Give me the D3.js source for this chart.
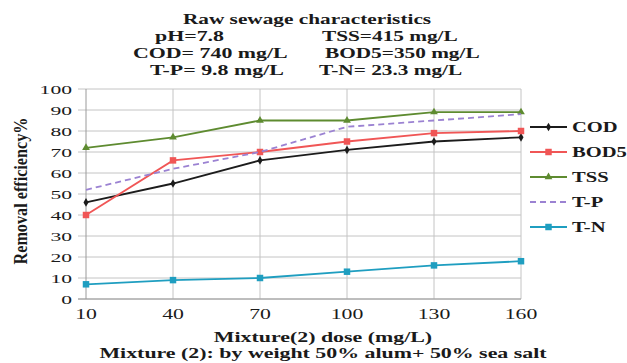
<!DOCTYPE html>
<html>
<head>
<meta charset="utf-8">
<script src="https://cdn.jsdelivr.net/npm/d3@7/dist/d3.min.js"></script>
<style>
  body { margin: 0; background: #fff; }
  text { font-family: "Liberation Serif", "Times New Roman", serif; fill: #1a1a1a; }
</style>
</head>
<body>
<div id="chart"></div>
<script>
const doses = [10, 40, 70, 100, 130, 160];
const cod = [46, 55, 66, 71, 75, 77];
const bod5 = [40, 66, 70, 75, 79, 80];
const tss = [72, 77, 85, 85, 89, 89];
const tp = [52, 62, 70, 82, 85, 88];
const tn = [7, 9, 10, 13, 16, 18];
const yTicks = [0, 10, 20, 30, 40, 50, 60, 70, 80, 90, 100];

const seriesNames = ["COD", "BOD5", "TSS", "T-P", "T-N"];
const headerTitle = "Raw sewage characteristics";
const headerLeft = ["pH=7.8", "COD= 740 mg/L", "T-P= 9.8 mg/L"];
const headerRight = ["TSS=415 mg/L", "BOD5=350 mg/L", "T-N= 23.3 mg/L"];
const xTitle = "Mixture(2) dose (mg/L)";
const caption = "Mixture (2): by weight 50% alum+ 50% sea salt";
const yTitle = "Removal efficiency%";

const W = 627, H = 363;
const svg = d3.select("#chart").append("svg")
    .attr("width", W)
    .attr("height", H);

// the picture is stretched sideways, so text is too
function label(str, x, y, size, bold, anchor, sx) {
    return svg.append("text")
        .attr("transform", "translate(" + x + "," + y + ") scale(" + sx + ",1)")
        .attr("text-anchor", anchor)
        .style("font-size", size + "px")
        .style("font-weight", bold ? "bold" : "normal")
        .text(str);
}

const x = d3.scalePoint().domain(doses).range([86, 521]);
const y = d3.scaleLinear().domain([0, 100]).range([299, 89]);

// grid
svg.append("g")
    .selectAll("line")
    .data(yTicks)
    .join("line")
    .attr("x1", 78).attr("x2", x(160))
    .attr("y1", d => y(d)).attr("y2", d => y(d))
    .attr("stroke", "#c4c4c4").attr("stroke-width", 1);
svg.append("g")
    .selectAll("line")
    .data(doses)
    .join("line")
    .attr("x1", d => x(d)).attr("x2", d => x(d))
    .attr("y1", y(100)).attr("y2", y(0))
    .attr("stroke", d => d == 10 ? "#9a9a9a" : "#c4c4c4").attr("stroke-width", 1);
svg.append("line")
    .attr("x1", 78).attr("x2", x(160))
    .attr("y1", y(0)).attr("y2", y(0))
    .attr("stroke", "#9a9a9a");

yTicks.forEach(d => label(d, 72, y(d) + 5, 13.5, false, "end", 1.6));
doses.forEach(d => label(d, x(d), 319, 15, false, "middle", 1.45));

const series = [
    { name: "COD", values: cod, color: "#1c1c1c", marker: "diamond", dash: null },
    { name: "BOD5", values: bod5, color: "#f05656", marker: "square", dash: null },
    { name: "TSS", values: tss, color: "#5e8b30", marker: "triangle", dash: null },
    { name: "T-P", values: tp, color: "#9b82d2", marker: null, dash: "6,4" },
    { name: "T-N", values: tn, color: "#1f9ec0", marker: "square", dash: null }
];

const line = d3.line()
    .x((d, i) => x(doses[i]))
    .y(d => y(d));

const markerSymbols = {
    diamond: d3.symbol().type(d3.symbolDiamond).size(22),
    square: d3.symbol().type(d3.symbolSquare).size(42),
    triangle: d3.symbol().type(d3.symbolTriangle).size(26)
};

series.forEach(s => {
    svg.append("path")
        .datum(s.values)
        .attr("d", line)
        .attr("fill", "none")
        .attr("stroke", s.color)
        .attr("stroke-width", 1.8)
        .attr("stroke-dasharray", s.dash);
    if (s.marker) {
        svg.append("g")
            .selectAll("path")
            .data(s.values)
            .join("path")
            .attr("transform", (d, i) => "translate(" + x(doses[i]) + "," + y(d) + ")")
            .attr("d", markerSymbols[s.marker])
            .attr("fill", s.color);
    }
});

// legend
series.forEach((s, i) => {
    const ly = 127 + i * 25;
    svg.append("line")
        .attr("x1", 530).attr("x2", 567)
        .attr("y1", ly).attr("y2", ly)
        .attr("stroke", s.color)
        .attr("stroke-width", 1.8)
        .attr("stroke-dasharray", s.dash);
    if (s.marker) {
        svg.append("path")
            .attr("transform", "translate(548.5," + ly + ")")
            .attr("d", markerSymbols[s.marker])
            .attr("fill", s.color);
    }
    label(s.name, 572, ly + 5, 15, true, "start", 1.37);
});

// header block
label(headerTitle, 307, 24, 15, true, "middle", 1.42);
const leftX = [155, 133, 150];
const rightX = [322, 325, 319];
headerLeft.forEach((t, i) => label(t, leftX[i], 41 + i * 17, 15, true, "start", 1.46));
headerRight.forEach((t, i) => label(t, rightX[i], 41 + i * 17, 15, true, "start", 1.42));

// axis titles
label(xTitle, 323, 342, 15, true, "middle", 1.46);
label(caption, 323, 358, 15, true, "middle", 1.46);
svg.append("text")
    .attr("transform", "translate(27,191) rotate(-90) scale(1,1.3)")
    .attr("text-anchor", "middle")
    .attr("textLength", 147)
    .attr("lengthAdjust", "spacingAndGlyphs")
    .style("font-size", "15px")
    .style("font-weight", "bold")
    .text(yTitle);
</script>
</body>
</html>
